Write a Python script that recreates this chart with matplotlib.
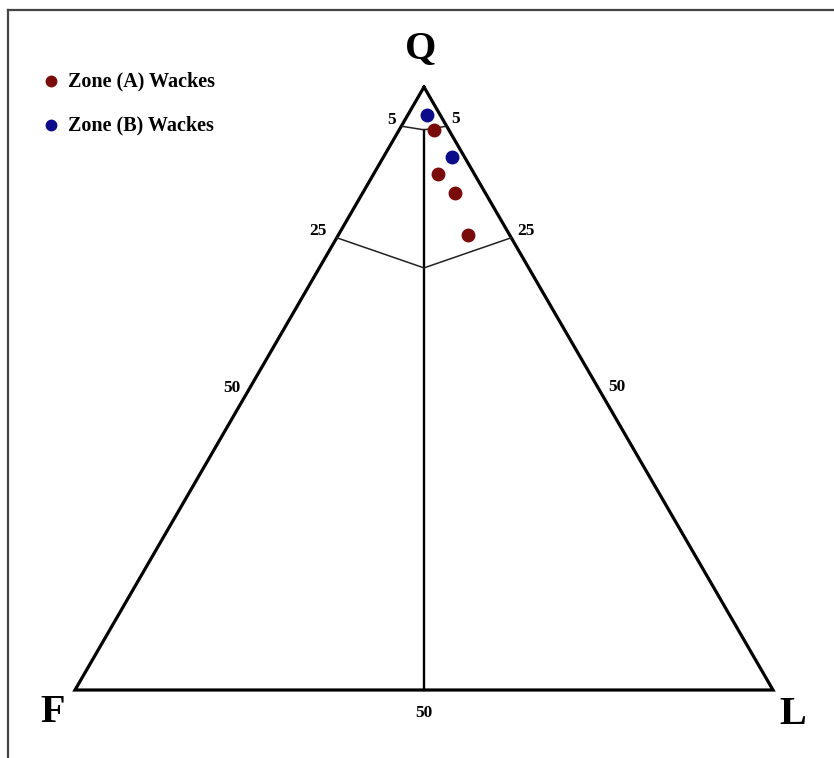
import numpy as np
import matplotlib
matplotlib.use("Agg")
import matplotlib.pyplot as plt
from matplotlib.lines import Line2D

# Data: Q-F-L percentages
zone_a_Q = [92.9, 85.5, 82.4, 75.5]
zone_a_F = [2.1, 5.2, 4.3, 6.0]
zone_a_L = [5.0, 9.3, 13.3, 18.5]
zone_b_Q = [95.4, 88.4]
zone_b_F = [1.9, 1.8]
zone_b_L = [2.7, 9.8]

series_labels = ["Zone (A) Wackes", "Zone (B) Wackes"]
series_colors = ["#7a0b0b", "#0c0c8a"]
apex_labels = ["Q", "F", "L"]

W, H = 834, 758
# triangle frame in pixels: F=(75,690), L=(773,690), apex height 603
X0, XW, Y0, YH = 75.0, 698.0, 690.0, 603.0


def tern(Q, F, L):
    Q = np.asarray(Q, float)
    F = np.asarray(F, float)
    L = np.asarray(L, float)
    s = Q + F + L
    return (L + Q / 2.0) / s, Q / s


def px(x, y):
    """pixel position -> data coords"""
    return (x - X0) / XW, (Y0 - y) / YH


plt.rcParams['font.family'] = ['Liberation Serif', 'DejaVu Serif']
fig = plt.figure(figsize=(W / 100, H / 100), dpi=100)
ax = fig.add_axes([0, 0, 1, 1])
ax.set_xlim(-X0 / XW, (W - X0) / XW)
ax.set_ylim((Y0 - H) / YH, Y0 / YH)
ax.axis('off')

# outer frame (top and left edges visible)
fig.add_artist(Line2D([8 / W, 1.0], [1 - 10 / H, 1 - 10 / H], color="#444444", lw=1.6))
fig.add_artist(Line2D([8 / W, 8 / W], [1 - 10 / H, 0.0], color="#444444", lw=1.6))

# triangle
tx, ty = tern([100, 0, 0, 100], [0, 100, 0, 0], [0, 0, 100, 0])
ax.plot(tx, ty, color="black", lw=2.3, solid_joinstyle="miter", zorder=2)

# central divide (F = L)
cx, cy = tern([0, 92.9], [50, 3.55], [50, 3.55])
ax.plot(cx, cy, color="black", lw=1.7, zorder=2)

# 5 % and 25 % boundaries
for qs, qc in [(93.5, 92.9), (75.0, 70.0)]:
    lx, ly = tern([qs, qc, qs], [100 - qs, (100 - qc) / 2, 0], [0, (100 - qc) / 2, 100 - qs])
    ax.plot(lx, ly, color="#222222", lw=1.1, zorder=2)

# data points
for Q, F, L, lab, col in [(zone_a_Q, zone_a_F, zone_a_L, series_labels[0], series_colors[0]),
                          (zone_b_Q, zone_b_F, zone_b_L, series_labels[1], series_colors[1])]:
    x, y = tern(Q, F, L)
    ax.plot(x, y, 'o', ms=9, color=col, mec=col, zorder=3, label=lab)

# apex labels
big = dict(fontsize=29, fontweight='bold', ha='center', va='center')
ax.text(*px(421, 49), apex_labels[0], **big)
ax.text(*px(53, 713), apex_labels[1], **big)
ax.text(*px(793, 714), apex_labels[2], **big)

# tick labels
small = dict(fontsize=12.5, fontweight='bold', ha='center', va='center')
for (x, y, t) in [(392, 120, "5"), (456, 119, "5"), (318, 231, "25"), (526, 231, "25"),
                  (232, 388, "50"), (617, 387, "50"), (424, 713, "50")]:
    ax.text(*px(x, y), t, **small)

# legend
for i, (lab, col) in enumerate(zip(series_labels, series_colors)):
    yy = 81 + 44 * i
    ax.plot(*px(51, yy), 'o', ms=7.5, color=col)
    ax.text(*px(68, yy), lab, fontsize=14.5, fontweight='bold', ha='left', va='center')

fig.savefig("out.png", dpi=100)
